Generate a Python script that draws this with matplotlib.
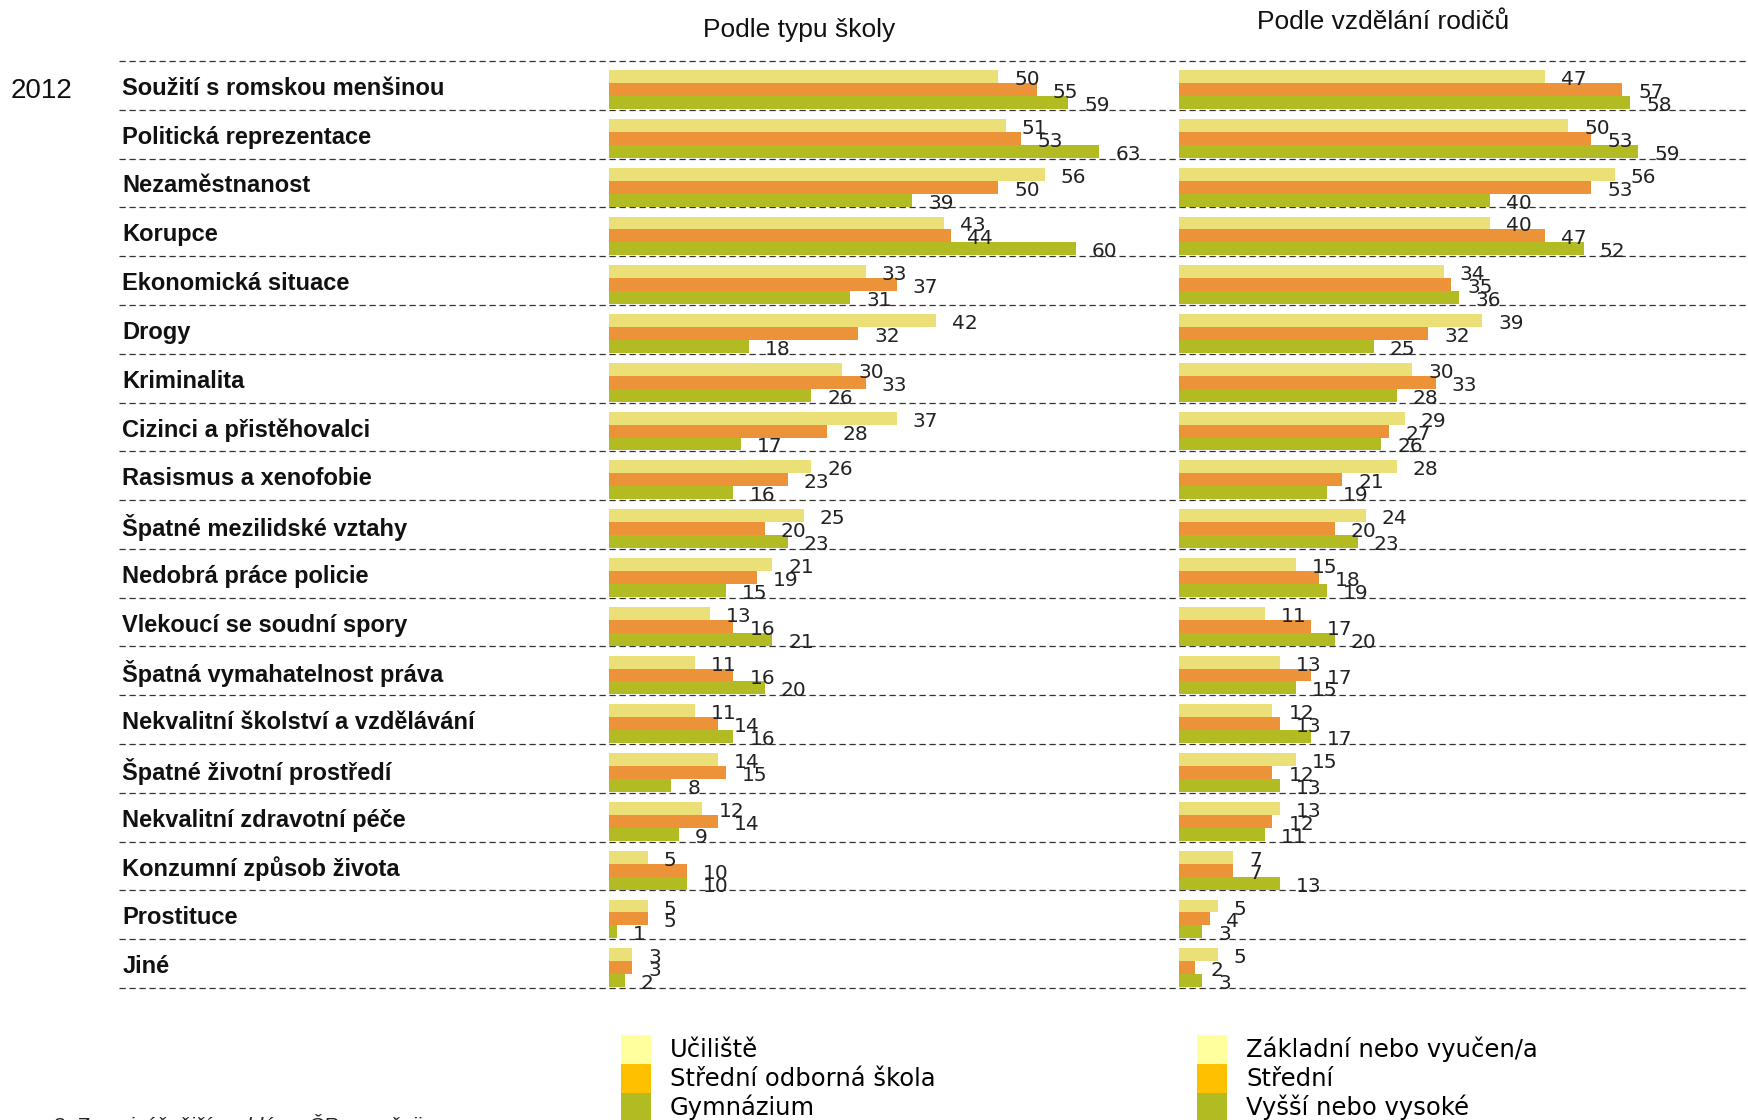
import matplotlib
matplotlib.use("Agg")
import matplotlib.pyplot as plt
from matplotlib.patches import Patch

# categories, top to bottom
categories = [
    "Soužití s romskou menšinou",
    "Politická reprezentace",
    "Nezaměstnanost",
    "Korupce",
    "Ekonomická situace",
    "Drogy",
    "Kriminalita",
    "Cizinci a přistěhovalci",
    "Rasismus a xenofobie",
    "Špatné mezilidské vztahy",
    "Nedobrá práce policie",
    "Vlekoucí se soudní spory",
    "Špatná vymahatelnost práva",
    "Nekvalitní školství a vzdělávání",
    "Špatné životní prostředí",
    "Nekvalitní zdravotní péče",
    "Konzumní způsob života",
    "Prostituce",
    "Jiné",
]

# Podle typu školy
school_names = ["Učiliště", "Střední odborná škola", "Gymnázium"]
uciliste = [50, 51, 56, 43, 33, 42, 30, 37, 26, 25, 21, 13, 11, 11, 14, 12, 5, 5, 3]
sos = [55, 53, 50, 44, 37, 32, 33, 28, 23, 20, 19, 16, 16, 14, 15, 14, 10, 5, 3]
gymnazium = [59, 63, 39, 60, 31, 18, 26, 17, 16, 23, 15, 21, 20, 16, 8, 9, 10, 1, 2]

# Podle vzdělání rodičů
parent_names = ["Základní nebo vyučen/a", "Střední", "Vyšší nebo vysoké"]
zakladni = [47, 50, 56, 40, 34, 39, 30, 29, 28, 24, 15, 11, 13, 12, 15, 13, 7, 5, 5]
stredni = [57, 53, 53, 47, 35, 32, 33, 27, 21, 20, 18, 17, 17, 13, 12, 12, 7, 4, 2]
vyssi = [58, 59, 40, 52, 36, 25, 28, 26, 19, 23, 19, 20, 15, 17, 13, 11, 13, 3, 3]

bar_colors = ["#EBDF78", "#EC9239", "#B2BB22"]
legend_colors = ["#FFFF9E", "#FFC000", "#B2BB22"]

W, H = 1748, 1120
fig = plt.figure(figsize=(W / 100, H / 100), dpi=100)

top_px, bot_px = 61, 988
n = len(categories)


def fx(px):
    return px / W


def fy(px):
    return 1 - px / H


# background axes: dashed separators + category labels
bg = fig.add_axes([fx(119), fy(bot_px), 1 - fx(119), (bot_px - top_px) / H])
bg.set_xlim(0, 1)
bg.set_ylim(n, 0)
bg.axis("off")
bg.hlines(range(n + 1), 0, 1, colors="#333333", linewidth=0.9,
          linestyles=(0, (5, 3)), clip_on=False)
for i, c in enumerate(categories):
    bg.text(0.002, i + 0.56, c, fontsize=17, fontweight="bold",
            family=["Liberation Sans", "DejaVu Sans"], va="center", ha="left",
            color="#111111")

px_per_unit = 7.78
offsets = [0.32, 0.585, 0.85]
h = 0.265


def panel(left_px, xmax, series):
    ax = fig.add_axes([fx(left_px), fy(bot_px), xmax * px_per_unit / W,
                       (bot_px - top_px) / H])
    ax.set_xlim(0, xmax)
    ax.set_ylim(n, 0)
    ax.axis("off")
    for k, vals in enumerate(series):
        ys = [i + offsets[k] for i in range(n)]
        ax.barh(ys, vals, height=h, color=bar_colors[k], edgecolor="none")
        for y, v in zip(ys, vals):
            ax.annotate(str(v), (v, y), xytext=(16, -3),
                        textcoords="offset pixels", va="center", ha="left",
                        fontsize=14.5, color="#222222", family="DejaVu Sans")
    return ax


panel(609, 70, [uciliste, sos, gymnazium])
panel(1179, 73, [zakladni, stredni, vyssi])

narrow = ["Liberation Sans Narrow", "Liberation Sans", "DejaVu Sans"]
fig.text(fx(799), fy(30), "Podle typu školy", ha="center", va="center",
         fontsize=19, family=narrow, color="#111111")
fig.text(fx(1383), fy(22), "Podle vzdělání rodičů", ha="center", va="center",
         fontsize=19, family=narrow, color="#111111")
fig.text(fx(11), fy(91), "2012", ha="left", va="center", fontsize=20,
         family=narrow, color="#111111")

fig.text(fx(53), fy(1114), "8. Za nejvážnější problémy ČR považuji",
         ha="left", va="top", fontsize=15, style="italic",
         family=["Liberation Sans", "DejaVu Sans"], color="#222222")

# legends
for names, x0 in [(school_names, 621), (parent_names, 1197)]:
    handles = [Patch(facecolor=c, edgecolor="none") for c in legend_colors]
    fig.legend(handles, names, loc="upper left",
               bbox_to_anchor=(fx(x0), fy(1035)), frameon=False,
               handlelength=1.25, handleheight=1.45,
               labelspacing=0.0, handletextpad=0.77, borderpad=0,
               borderaxespad=0, prop={"family": "DejaVu Sans", "size": 17.5})

fig.savefig("out.png", dpi=100)
